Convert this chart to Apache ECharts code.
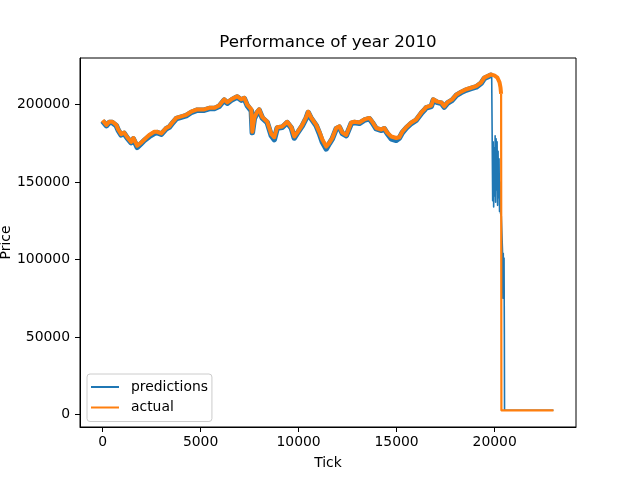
<!DOCTYPE html>
<html>
<head>
<meta charset="utf-8">
<title>Performance of year 2010</title>
<script src="https://cdn.jsdelivr.net/npm/echarts@6/dist/echarts.min.js"></script>
<style>
    html, body { margin: 0; padding: 0; background: #fff; }
    #chart { width: 640px; height: 480px; }
</style>
</head>
<body>
<div id="chart"></div>
<script>
var xTicks = [0, 5000, 10000, 15000, 20000];
var yTicks = [0, 50000, 100000, 150000, 200000];

// actual price
var actualTicks = [0, 200, 340, 500, 700, 800, 950, 1100, 1260, 1460, 1570, 1770, 1970, 2130, 2380, 2640, 2790, 3000,
    3250, 3400, 3560, 3760, 4020, 4270, 4520, 4830, 5190, 5440, 5700, 5950, 6210, 6360, 6570, 6720, 6870, 7080, 7230,
    7380, 7590, 7640, 7740, 7890, 7990, 8150, 8400, 8610, 8760, 8910, 9170, 9420, 9630, 9780, 9930, 10190, 10390,
    10490, 10650, 10900, 11060, 11210, 11410, 11570, 11720, 11920, 12080, 12230, 12430, 12690, 12840, 13100, 13350,
    13610, 13760, 13960, 14220, 14370, 14520, 14730, 14980, 15140, 15290, 15490, 15750, 16000, 16260, 16410, 16510,
    16770, 16870, 17080, 17280, 17430, 17590, 17840, 18040, 18300, 18550, 18810, 19060, 19320, 19470, 19630, 19800,
    19980, 20140, 20250, 20300, 20330];
var actualPrice = [190000, 187000, 189000, 189000, 187000, 184000, 181000, 182000, 179000, 176000, 178500, 173500,
    175500, 177500, 180500, 182500, 182500, 181500, 185000, 186000, 188500, 191500, 192500, 193500, 195500, 197000,
    197000, 198000, 198000, 199500, 203500, 201500, 203500, 204500, 205500, 203500, 204500, 200000, 197000, 182500,
    191500, 195500, 197000, 192000, 189000, 181000, 179000, 185500, 186000, 189000, 185500, 179500, 182000, 187000,
    192000, 195500, 191500, 187000, 182500, 177500, 173000, 175500, 178500, 185000, 186000, 182000, 180500, 188500,
    189000, 188500, 190500, 191500, 189000, 185000, 184000, 185000, 182000, 179500, 178500, 179000, 182500, 185500,
    188500, 190500, 195000, 197000, 198500, 199500, 203500, 202000, 201500, 199000, 201500, 203500, 206500, 208500,
    210000, 211000, 212000, 214500, 217500, 218500, 219500, 219000, 217500, 214500, 211000, 207000];
var actualTailTicks = [20330, 20345, 23000];
var actualTailPrice = [207000, 2600, 2600];

// predictions
var predTicks = [0, 200, 340, 500, 700, 800, 950, 1100, 1260, 1460, 1570, 1770, 1970, 2130, 2380, 2640, 2790, 3000,
    3250, 3400, 3560, 3760, 4020, 4270, 4520, 4830, 5190, 5440, 5700, 5950, 6210, 6360, 6570, 6720, 6870, 7080, 7230,
    7380, 7590, 7640, 7740, 7890, 7990, 8150, 8400, 8610, 8760, 8910, 9170, 9420, 9630, 9780, 9930, 10190, 10390,
    10490, 10650, 10900, 11060, 11210, 11410, 11570, 11720, 11920, 12080, 12230, 12430, 12690, 12840, 13100, 13350,
    13610, 13760, 13960, 14220, 14370, 14520, 14730, 14980, 15140, 15290, 15490, 15750, 16000, 16260, 16410, 16510,
    16770, 16870, 17080, 17280, 17430, 17590, 17840, 18040, 18300, 18550, 18810, 19060, 19320, 19470, 19630, 19800,
    19850];
var predPrice = [189500, 186500, 188500, 188500, 186500, 183500, 180500, 181500, 178500, 175500, 178000, 172500,
    175000, 177000, 179500, 181500, 182000, 181000, 184500, 185500, 188000, 191000, 192000, 193000, 195000, 196500,
    196500, 197500, 197500, 199000, 203000, 201000, 203000, 204000, 205000, 203000, 204000, 199500, 196000, 182000,
    191000, 195000, 196500, 191500, 188500, 180000, 177500, 185000, 185500, 188500, 185000, 178500, 181500, 186500,
    191500, 195000, 191000, 186500, 181500, 176000, 171500, 175000, 178000, 184500, 185500, 181500, 180000, 188000,
    188500, 188000, 190000, 191000, 188500, 184500, 183500, 184500, 181500, 178000, 177000, 178500, 182000, 185000,
    188000, 190000, 194500, 196500, 198000, 199000, 203000, 201500, 201000, 198500, 201000, 203000, 206000, 208000,
    209500, 210500, 211500, 214000, 217000, 218000, 219000, 218000];
var predTailTicks = [19850, 19900, 19925, 19950, 19975, 20000, 20025, 20050, 20075, 20100, 20125, 20150, 20175,
    20200, 20225, 20250, 20275, 20300, 20340, 20400, 20420, 20440, 20460, 20480, 20495, 20505, 23000];
var predTailPrice = [218000, 138000, 176000, 134000, 172000, 141000, 180000, 137000, 178000, 145000, 176000, 135000,
    170000, 140000, 165000, 131000, 150000, 130000, 128000, 106000, 75000, 104000, 80000, 101000, 52000, 2600, 2600];

var BLUE = '#1f77b4';
var ORANGE = '#ff7f0e';
var FONT = 'DejaVu Sans';

function pairs(xs, ys) {
    return xs.map(function (x, i) {
        return [x, ys[i]];
    });
}

function plain(value) {
    return String(value);
}

function lineSeries(name, data, color, width) {
    return {
        name: name,
        type: 'line',
        data: data,
        symbol: 'none',
        showSymbol: false,
        color: color,
        itemStyle: {color: color},
        lineStyle: {color: color, width: width, join: 'round'},
        emphasis: {disabled: true},
        silent: true,
        clip: true
    };
}

var myChart = echarts.init(document.getElementById('chart'), null, {renderer: 'canvas'});

var option = {
    animation: false,
    backgroundColor: '#fff',
    textStyle: {fontFamily: FONT},
    title: {
        text: 'Performance of year 2010',
        left: 328,
        top: 34,
        padding: 0,
        textAlign: 'center',
        textStyle: {fontFamily: FONT, fontSize: 16.7, fontWeight: 'normal', color: '#000'}
    },
    legend: {
        data: ['predictions', 'actual'],
        orient: 'vertical',
        left: 87,
        top: 374,
        padding: [5, 4, 6, 4],
        icon: 'rect',
        itemWidth: 28,
        itemHeight: 2,
        itemGap: 4.5,
        backgroundColor: 'rgba(255,255,255,0.8)',
        borderColor: '#cccccc',
        borderWidth: 1,
        borderRadius: 3,
        textStyle: {fontFamily: FONT, fontSize: 13.9, color: '#000', padding: [0, 0, 0, 7], lineHeight: 16}
    },
    grid: {
        left: 80,
        right: 64,
        top: 58,
        bottom: 53,
        outerBoundsMode: 'none',
        containLabel: false,
        show: true,
        borderColor: '#000',
        borderWidth: 1,
        backgroundColor: 'transparent'
    },
    xAxis: {
        type: 'value',
        min: -1150,
        max: 24150,
        name: 'Tick',
        nameLocation: 'middle',
        nameGap: 29,
        nameMoveOverlap: false,
        nameTextStyle: {fontFamily: FONT, fontSize: 13.9, color: '#000'},
        splitLine: {show: false},
        axisLine: {show: true, onZero: false, lineStyle: {color: '#000', width: 1}},
        axisTick: {show: true, length: 5, customValues: xTicks, lineStyle: {color: '#000', width: 1}},
        axisLabel: {customValues: xTicks, formatter: plain, margin: 8, fontFamily: FONT, fontSize: 13.9, color: '#000'}
    },
    yAxis: {
        type: 'value',
        min: -8200,
        max: 230200,
        name: 'Price',
        nameLocation: 'middle',
        nameGap: 67,
        nameMoveOverlap: false,
        nameTextStyle: {fontFamily: FONT, fontSize: 13.9, color: '#000'},
        splitLine: {show: false},
        axisLine: {show: true, onZero: false, lineStyle: {color: '#000', width: 1}},
        axisTick: {show: true, length: 5, customValues: yTicks, lineStyle: {color: '#000', width: 1}},
        axisLabel: {customValues: yTicks, formatter: plain, margin: 10, fontFamily: FONT, fontSize: 13.9, color: '#000'}
    },
    series: [
        lineSeries('predictions', pairs(predTicks, predPrice), BLUE, 5.5),
        lineSeries('predictions', pairs(predTailTicks, predTailPrice), BLUE, 1.6),
        lineSeries('actual', pairs(actualTicks, actualPrice), ORANGE, 4),
        lineSeries('actual', pairs(actualTailTicks, actualTailPrice), ORANGE, 2.2)
    ]
};

myChart.setOption(option);
</script>
</body>
</html>
